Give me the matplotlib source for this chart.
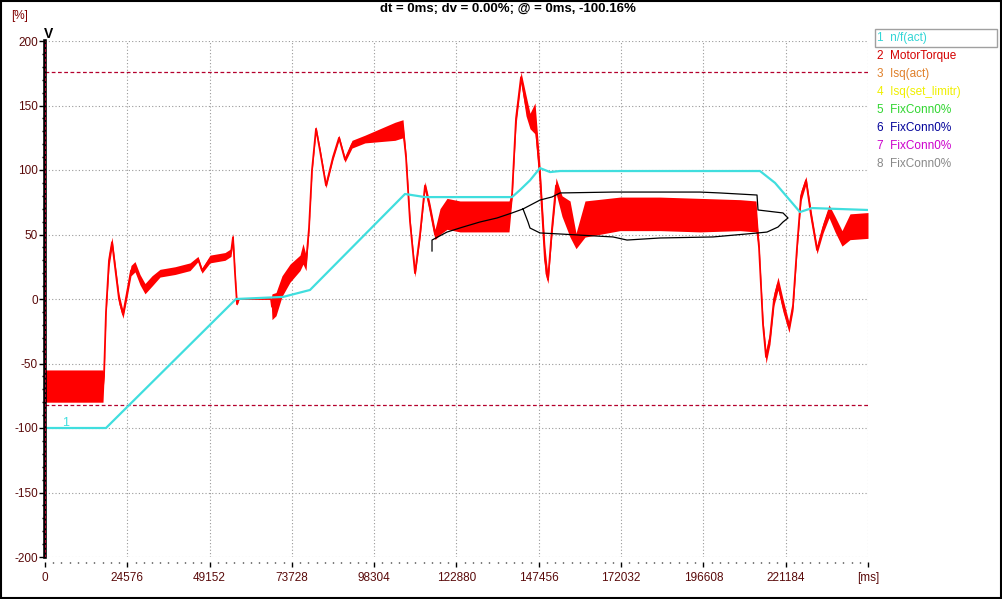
import numpy as np
import matplotlib
matplotlib.use("Agg")
from matplotlib import pyplot as plt
from matplotlib.ticker import MultipleLocator
from matplotlib.patches import Rectangle

plt.rcParams["font.family"] = ["Liberation Sans", "DejaVu Sans"]
plt.rcParams["axes.unicode_minus"] = False

# n/f(act) trace, time in ms, value in %
speed_t = [0, 18215, 57037, 71071, 79134, 107503, 113475, 139455, 141845,
           144831, 147817, 150803, 153789, 213514, 218000, 225450, 229033, 245760]
speed_v = [-100, -100, 0, 1.6, 7, 81.4, 79, 79, 84.5,
           92, 101.5, 98.4, 99.2, 99.2, 90, 67.4, 70.5, 69]

# MotorTorque trace: centre and half width of the noisy band
torque_t = [0, 17320, 17618, 18215, 19111, 20007, 20903, 22098, 23292, 24487,
            25681, 26876, 28369, 29862, 31953, 34342, 38821, 43301, 45690, 46884,
            49273, 53753, 55544, 56141, 56739, 57336, 57933, 67489, 67787, 68982,
            70774, 73163, 76149, 77045, 77941, 78837, 79733, 80927, 82122, 83914,
            86004, 87796, 89587, 91677, 95559, 100039, 104518, 106907, 107803, 108997,
            110490, 111983, 113476, 114969, 116462, 117955, 120045, 123927, 129900, 138560,
            139455, 140650, 142143, 143636, 144831, 146324, 147817, 149310, 150206, 151400,
            152595, 154387, 156776, 158568, 161255, 171707, 183652, 195596, 207541, 212319,
            213215, 214410, 215306, 216500, 217695, 218890, 220383, 222175, 223369, 224564,
            225758, 227251, 228744, 230536, 232328, 234119, 235911, 238001, 240390, 245760]
torque_c = [-67.5, -67.5, -60, -10, 30, 44, 25, 0, -12, 5,
            22, 25, 15, 8, 14, 20, 22, 25, 31, 22,
            31, 33, 36, 48, 20, -4, 0, 0, -6, -4,
            10, 20, 28, 35, 28, 55, 100, 132, 115, 88,
            110, 125, 108, 120, 124, 127, 130, 132, 110, 60,
            20, 50, 88, 70, 50, 60, 66, 64, 64, 64,
            80, 140, 172, 150, 138, 140, 95, 30, 15, 55,
            88, 72, 62, 45, 62, 66, 66, 65, 65, 64,
            40, -20, -45, -30, 0, 12, -5, -22, -5, 40,
            80, 92, 65, 38, 55, 68, 58, 47, 56, 57]
torque_h = [12.5, 12.5, 2, 3, 5, 4, 4, 4, 3, 4,
            4, 4, 4, 4, 4, 3, 3, 3, 2, 2,
            3, 3, 3, 3, 2, 1, 0, 0, 10, 9,
            8, 7, 6, 8, 6, 2, 2, 2, 2, 2,
            2, 2, 2, 3, 3, 5, 7, 7, 3, 3,
            3, 3, 3, 4, 4, 10, 12, 12, 12, 12,
            3, 5, 4, 8, 6, 12, 8, 10, 3, 5,
            6, 8, 14, 6, 14, 13, 13, 13, 12, 12,
            3, 4, 5, 5, 5, 5, 5, 4, 4, 3,
            4, 3, 4, 3, 4, 5, 6, 6, 10, 10]

# black freehand outline
outline_t = [115566, 115566, 120045, 124823, 129900, 134976, 139455, 142740, 147817,
             151400, 153789, 169616, 195596, 201569, 212618, 212917, 220383, 221876,
             220383, 218890, 215605, 212917, 199479, 183652, 173798, 169616, 153789,
             147817, 144831, 144233, 142740]
outline_v = [37.2, 45.7, 51.9, 55.8, 59.7, 62.8, 66.7, 69.8, 76.7,
             79.1, 82.2, 82.9, 82.9, 82.2, 80.6, 69.0, 66.7, 62.8,
             59.7, 55.8, 51.9, 51.2, 48.1, 47.3, 45.7, 48.1, 50.4,
             51.2, 55.0, 59.7, 69.8]

limit_hi = 176
limit_lo = -82

x_ticks = [0, 24576, 49152, 73728, 98304, 122880, 147456, 172032, 196608, 221184, 245760]
x_labels = ["0", "24576", "49152", "73728", "98304", "122880", "147456",
            "172032", "196608", "221184", "[ms]"]
y_ticks = [-200, -150, -100, -50, 0, 50, 100, 150, 200]

legend_names = ["n/f(act)", "MotorTorque", "Isq(act)", "Isq(set_limitr)",
                "FixConn0%", "FixConn0%", "FixConn0%", "FixConn0%"]
legend_colors = ["#33d6d6", "#d40000", "#e0802a", "#f0f000",
                 "#2fd52f", "#000099", "#cc00cc", "#888888"]

tick_color = "#5a0a0a"
cyan = "#40dede"
red = "#ff0000"

fig = plt.figure(figsize=(10.03, 5.99), dpi=100)
ax = fig.add_axes([45 / 1003, 42 / 599, 823 / 1003, 516 / 599])

ax.set_xlim(0, 245760)
ax.set_ylim(-200, 200)

# limit lines
ax.axhline(limit_hi, color="#b4002d", lw=0.9, ls=(0, (3, 2)))
ax.axhline(limit_lo, color="#b4002d", lw=0.9, ls=(0, (3, 2)))

# traces
tc = np.array(torque_c)
th = np.array(torque_h)
ax.fill_between(torque_t, tc - th, tc + th, color=red, lw=0)
ax.plot(torque_t, torque_c, color=red, lw=1.3)
ax.plot(speed_t, speed_v, color=cyan, lw=1.6)
ax.plot(outline_t, outline_v, color="black", lw=0.9)
ax.text(5000, -96, "1", color=cyan, fontsize=9, ha="left", va="center")

# axes style
for side in ["top", "right", "bottom"]:
    ax.spines[side].set_visible(False)
ax.spines["left"].set_linewidth(2.6)
ax.spines["left"].set_color("black")
ax.axvline(0, color="#c00030", lw=0.7, ls=(0, (3, 2)), zorder=5)
ax.spines["bottom"].set_position(("outward", 3.5))

ax.set_xticks(x_ticks)
ax.set_xticklabels(x_labels)
ax.set_yticks(y_ticks)
ax.xaxis.set_minor_locator(MultipleLocator(2457.6))
ax.yaxis.set_minor_locator(MultipleLocator(10))
ax.tick_params(axis="both", which="both", direction="out", colors="black",
               labelcolor=tick_color, labelsize=8.5)
ax.tick_params(axis="y", which="major", length=4, width=1, pad=1)
ax.tick_params(axis="y", which="minor", length=2, width=1)
ax.tick_params(axis="x", which="major", length=3.5, width=1, pad=4)
ax.tick_params(axis="x", which="minor", length=1, width=1)

ax.grid(True, which="major", color="#999999", lw=0.8, ls=(0, (1, 2)))
ax.set_axisbelow(True)

ax.text(0.004, 1.0, "V", transform=ax.transAxes, ha="center", va="bottom",
        fontsize=10, fontweight="bold", color="black")

fig.text(20 / 1003, 1 - 16 / 599, "[%]", color="#800000", fontsize=8.5,
         ha="center", va="center")
fig.text(508 / 1003, 1 - 9 / 599, "dt = 0ms; dv = 0.00%; @ = 0ms, -100.16%",
         fontsize=9.5, fontweight="bold", ha="center", va="center")

# channel list
for i, (name, col) in enumerate(zip(legend_names, legend_colors)):
    y = 1 - (38 + 18 * i) / 599
    fig.text(877 / 1003, y, "{}  {}".format(i + 1, name), color=col,
             fontsize=8.5, ha="left", va="center")
fig.patches.append(Rectangle((875 / 1003, 1 - 47 / 599), 122 / 1003, 18 / 599,
                             transform=fig.transFigure, fill=False,
                             edgecolor="#a0a0a0", lw=1))
fig.patches.append(Rectangle((0.0005, 0.001), 0.998, 0.998, transform=fig.transFigure,
                             fill=False, edgecolor="black", lw=1.5))

fig.savefig("out.png", dpi=100)
plt.close(fig)
